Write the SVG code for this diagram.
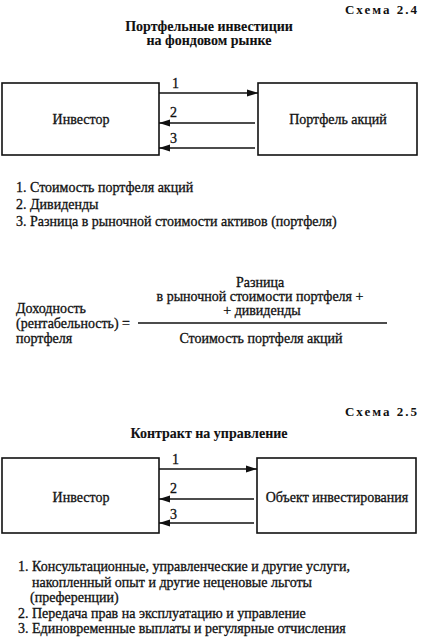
<svg xmlns="http://www.w3.org/2000/svg" width="425" height="637" viewBox="0 0 425 637" font-family="'Liberation Serif', 'Times New Roman', 'DejaVu Serif', serif">
<defs>
<marker id="ah" markerWidth="12" markerHeight="8" refX="11" refY="4" orient="auto" markerUnits="userSpaceOnUse">
<path d="M0,0.5 L11,4 L0,7.5 Z" fill="#111"/>
</marker>
<style>
text{font-family:'Liberation Serif','Times New Roman','DejaVu Serif',serif;fill:#111;stroke:#111;stroke-width:0.3;font-size:14px}
.b{font-weight:bold;stroke-width:0.1}
.sch{font-size:13px;letter-spacing:2px;font-weight:bold;stroke-width:0}
.box{fill:#fff;stroke:#111;stroke-width:1.6}
.c{stroke:#111;stroke-width:1.5;fill:none;marker-end:url(#ah)}
.m{text-anchor:middle}
</style>
</defs>
<rect width="425" height="637" fill="#fff"/>

<text class="sch" x="419" y="14" text-anchor="end">Схема 2.4</text>
<text class="b m" x="209" y="31">Портфельные инвестиции</text>
<text class="b m" x="209" y="45">на фондовом рынке</text>

<g id="investor1">
<rect class="box" x="2" y="83" width="157" height="72"/>
<text class="m" x="81" y="124">Инвестор</text>
</g>
<g id="portfolio">
<rect class="box" x="258" y="83" width="159" height="72"/>
<text class="m" x="338" y="124">Портфель акций</text>
</g>

<g id="connectors1">
<line class="c" x1="159" y1="93" x2="258" y2="93"/>
<line class="c" x1="255" y1="123" x2="159" y2="123"/>
<line class="c" x1="255" y1="148" x2="159" y2="148"/>
<text x="172" y="88">1</text>
<text x="170" y="117">2</text>
<text x="170" y="143">3</text>
</g>

<g id="legend1">
<text x="16" y="192">1. Стоимость портфеля акций</text>
<text x="16" y="209">2. Дивиденды</text>
<text x="16" y="226">3. Разница в рыночной стоимости активов (портфеля)</text>
</g>

<g id="formula">
<text x="16" y="313">Доходность</text>
<text x="16" y="328">(рентабельность) =</text>
<text x="16" y="343">портфеля</text>
<text class="m" x="260" y="287">Разница</text>
<text class="m" x="260" y="301">в рыночной стоимости портфеля +</text>
<text class="m" x="262" y="315">+ дивиденды</text>
<line x1="138" y1="323" x2="387" y2="323" stroke="#111" stroke-width="1.5"/>
<text class="m" x="261" y="343">Стоимость портфеля акций</text>
</g>

<text class="sch" x="419" y="416" text-anchor="end">Схема 2.5</text>
<text class="b m" x="209" y="438">Контракт на управление</text>

<g id="investor2">
<rect class="box" x="2" y="458" width="157" height="75"/>
<text class="m" x="81" y="502">Инвестор</text>
</g>
<g id="object">
<rect class="box" x="257" y="458" width="159" height="75"/>
<text class="m" x="337" y="502">Объект инвестирования</text>
</g>

<g id="connectors2">
<line class="c" x1="159" y1="469" x2="257" y2="469"/>
<line class="c" x1="254" y1="499" x2="159" y2="499"/>
<line class="c" x1="254" y1="523" x2="159" y2="523"/>
<text x="172" y="464">1</text>
<text x="170" y="493">2</text>
<text x="170" y="519">3</text>
</g>

<g id="legend2">
<text x="18" y="571">1. Консультационные, управленческие и другие услуги,</text>
<text x="32" y="587">накопленный опыт и другие неценовые льготы</text>
<text x="30" y="602">(преференции)</text>
<text x="18" y="618">2. Передача прав на эксплуатацию и управление</text>
<text x="18" y="633">3. Единовременные выплаты и регулярные отчисления</text>
</g>
</svg>
